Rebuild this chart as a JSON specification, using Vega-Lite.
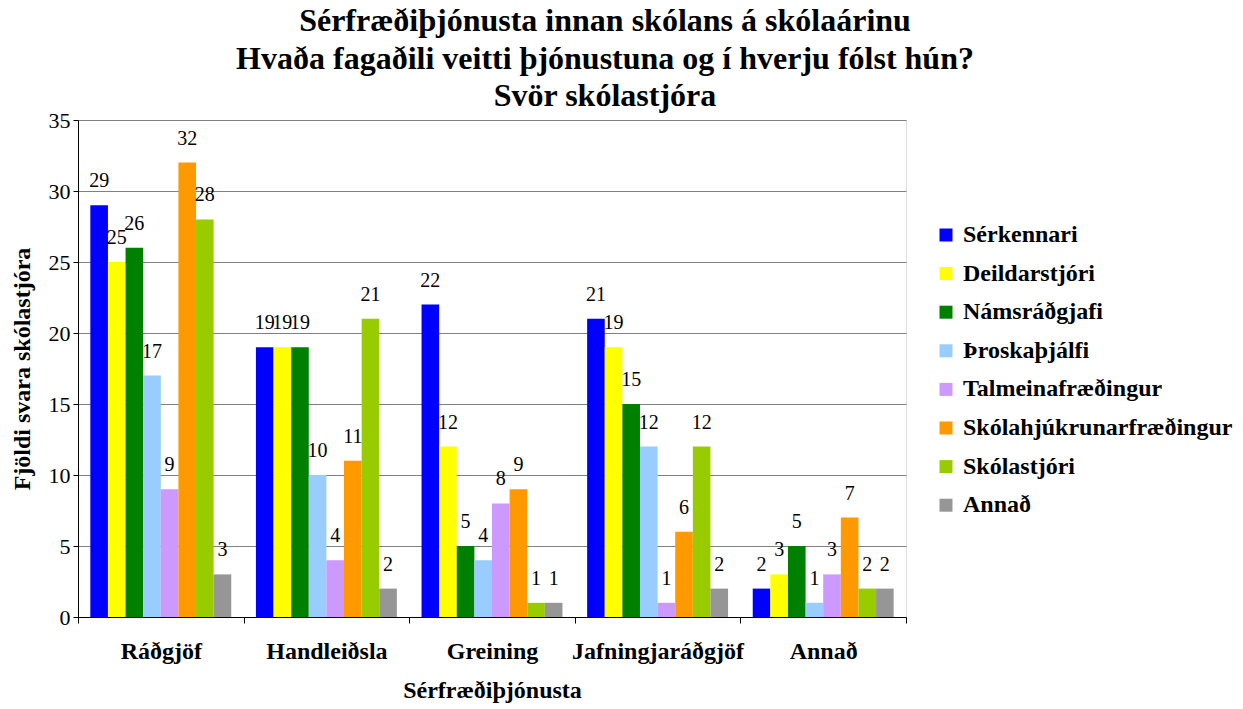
{
  "$schema": "https://vega.github.io/schema/vega-lite/v6.json",
  "width": 828,
  "height": 497,
  "autosize": {"type": "none"},
  "padding": {"left": 78, "top": 120, "right": 337, "bottom": 92},
  "background": "white",
  "title": {
    "text": ["Sérfræðiþjónusta innan skólans á skólaárinu", "Hvaða fagaðili veitti þjónustuna og í hverju fólst hún?", "Svör skólastjóra"],
    "font": "Liberation Serif",
    "fontSize": 32,
    "fontWeight": "bold",
    "color": "black",
    "lineHeight": 37.5,
    "anchor": "middle",
    "frame": "group",
    "dx": 113,
    "offset": -4
  },
  "data": {
    "values": [
      {"cat": "Ráðgjöf", "grp": "Sérkennari", "v": 29},
      {"cat": "Ráðgjöf", "grp": "Deildarstjóri", "v": 25},
      {"cat": "Ráðgjöf", "grp": "Námsráðgjafi", "v": 26},
      {"cat": "Ráðgjöf", "grp": "Þroskaþjálfi", "v": 17},
      {"cat": "Ráðgjöf", "grp": "Talmeinafræðingur", "v": 9},
      {"cat": "Ráðgjöf", "grp": "Skólahjúkrunarfræðingur", "v": 32},
      {"cat": "Ráðgjöf", "grp": "Skólastjóri", "v": 28},
      {"cat": "Ráðgjöf", "grp": "Annað", "v": 3},
      {"cat": "Handleiðsla", "grp": "Sérkennari", "v": 19},
      {"cat": "Handleiðsla", "grp": "Deildarstjóri", "v": 19},
      {"cat": "Handleiðsla", "grp": "Námsráðgjafi", "v": 19},
      {"cat": "Handleiðsla", "grp": "Þroskaþjálfi", "v": 10},
      {"cat": "Handleiðsla", "grp": "Talmeinafræðingur", "v": 4},
      {"cat": "Handleiðsla", "grp": "Skólahjúkrunarfræðingur", "v": 11},
      {"cat": "Handleiðsla", "grp": "Skólastjóri", "v": 21},
      {"cat": "Handleiðsla", "grp": "Annað", "v": 2},
      {"cat": "Greining", "grp": "Sérkennari", "v": 22},
      {"cat": "Greining", "grp": "Deildarstjóri", "v": 12},
      {"cat": "Greining", "grp": "Námsráðgjafi", "v": 5},
      {"cat": "Greining", "grp": "Þroskaþjálfi", "v": 4},
      {"cat": "Greining", "grp": "Talmeinafræðingur", "v": 8},
      {"cat": "Greining", "grp": "Skólahjúkrunarfræðingur", "v": 9},
      {"cat": "Greining", "grp": "Skólastjóri", "v": 1},
      {"cat": "Greining", "grp": "Annað", "v": 1},
      {"cat": "Jafningjaráðgjöf", "grp": "Sérkennari", "v": 21},
      {"cat": "Jafningjaráðgjöf", "grp": "Deildarstjóri", "v": 19},
      {"cat": "Jafningjaráðgjöf", "grp": "Námsráðgjafi", "v": 15},
      {"cat": "Jafningjaráðgjöf", "grp": "Þroskaþjálfi", "v": 12},
      {"cat": "Jafningjaráðgjöf", "grp": "Talmeinafræðingur", "v": 1},
      {"cat": "Jafningjaráðgjöf", "grp": "Skólahjúkrunarfræðingur", "v": 6},
      {"cat": "Jafningjaráðgjöf", "grp": "Skólastjóri", "v": 12},
      {"cat": "Jafningjaráðgjöf", "grp": "Annað", "v": 2},
      {"cat": "Annað", "grp": "Sérkennari", "v": 2},
      {"cat": "Annað", "grp": "Deildarstjóri", "v": 3},
      {"cat": "Annað", "grp": "Námsráðgjafi", "v": 5},
      {"cat": "Annað", "grp": "Þroskaþjálfi", "v": 1},
      {"cat": "Annað", "grp": "Talmeinafræðingur", "v": 3},
      {"cat": "Annað", "grp": "Skólahjúkrunarfræðingur", "v": 7},
      {"cat": "Annað", "grp": "Skólastjóri", "v": 2},
      {"cat": "Annað", "grp": "Annað", "v": 2}
    ]
  },
  "encoding": {
    "x": {
      "field": "cat",
      "type": "nominal",
      "sort": null,
      "scale": {"paddingInner": 0, "paddingOuter": 0},
      "axis": {
        "title": "Sérfræðiþjónusta",
        "titleFont": "Liberation Serif",
        "titleFontSize": 24,
        "titleFontWeight": "bold",
        "titleColor": "black",
        "titlePadding": 15,
        "labelFont": "Liberation Serif",
        "labelFontSize": 24,
        "labelFontWeight": "bold",
        "labelColor": "black",
        "labelAngle": 0,
        "labelPadding": 16,
        "tickBand": "extent",
        "tickSize": 6,
        "tickColor": "black",
        "domainColor": "black",
        "grid": false
      }
    },
    "xOffset": {
      "field": "grp",
      "type": "nominal",
      "sort": null,
      "scale": {"paddingInner": 0, "paddingOuter": 0.7}
    }
  },
  "layer": [
    {
      "mark": {"type": "bar"},
      "encoding": {
        "y": {
          "field": "v",
          "type": "quantitative",
          "scale": {"domain": [0, 35], "nice": false},
          "axis": {
            "title": "Fjöldi svara skólastjóra",
            "titleFont": "Liberation Serif",
            "titleFontSize": 24,
            "titleFontWeight": "bold",
            "titleColor": "black",
            "titlePadding": 14,
            "labelFont": "Liberation Serif",
            "labelFontSize": 22,
            "labelColor": "black",
            "labelPadding": 3,
            "values": [0, 5, 10, 15, 20, 25, 30, 35],
            "tickSize": 5,
            "tickColor": "black",
            "domainColor": "black",
            "grid": true,
            "gridColor": "#808080",
            "gridOpacity": 1
          }
        },
        "color": {
          "field": "grp",
          "type": "nominal",
          "sort": null,
          "scale": {
            "domain": ["Sérkennari", "Deildarstjóri", "Námsráðgjafi", "Þroskaþjálfi", "Talmeinafræðingur", "Skólahjúkrunarfræðingur", "Skólastjóri", "Annað"],
            "range": ["#0000FF", "#FFFF00", "#008000", "#99CCFF", "#CC99FF", "#FF9900", "#99CC00", "#969696"]
          },
          "legend": {
            "title": null,
            "orient": "none",
            "legendX": 856,
            "legendY": 103,
            "symbolType": "square",
            "symbolSize": 169,
            "symbolStrokeWidth": 0,
            "symbolOpacity": 1,
            "labelFont": "Liberation Serif",
            "labelFontSize": 24,
            "labelFontWeight": "bold",
            "labelColor": "black",
            "labelOffset": 5,
            "rowPadding": 14.6,
            "labelLimit": 400
          }
        }
      }
    },
    {
      "mark": {"type": "text", "dy": -24, "font": "Liberation Serif", "fontSize": 20, "color": "black"},
      "encoding": {
        "y": {"field": "v", "type": "quantitative"},
        "text": {"field": "v", "type": "quantitative"}
      }
    }
  ]
}
